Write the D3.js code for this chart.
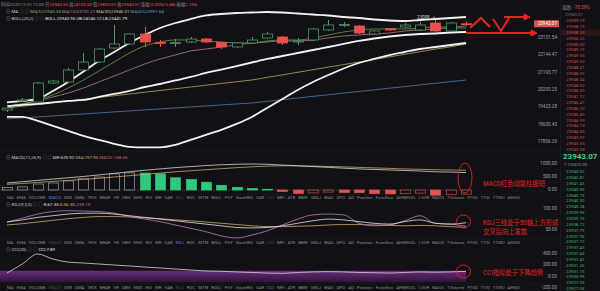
<!DOCTYPE html>
<html><head><meta charset="utf-8">
<script src="https://cdn.jsdelivr.net/npm/d3@7"></script>
<style>
html,body{margin:0;padding:0;background:#111115;}
svg{display:block;font-family:Roboto,"Noto Sans CJK SC",sans-serif;}
</style></head>
<body><svg id="c" width="600" height="291"></svg>
<script>
// candles, one per bar (oldest first)
const opens  = [19292,19732,19683,20643,20695,21327,21759,22536,22764,23342,22849,22792,22878,23051,22849,22593,22821,23109,23167,22878,22993,23577,23844,23814,23342,23665,23755,23577,23994,23518,23943.55];
const closes = [19389,19782,20643,20747,21327,21759,22480,22764,23342,22878,22792,22849,23051,22878,22593,22821,22993,23342,22821,22936,23636,23874,23904,23400,23518,23577,23874,23874,23518,23994,23943.07];
const highs  = [19487,19882,20695,20799,21434,22256,22536,23874,23400,23755,22993,23051,23167,23109,22878,22878,23167,23459,23225,23109,23695,24175,24054,23874,23577,23695,23994,24054,24175,24054,24100];
const lows   = [19196,19683,19634,20592,20643,21274,21705,22480,22707,22593,22593,22593,22821,22821,22480,22536,22764,23051,22707,22707,22936,23518,23755,23342,23283,23518,23695,23518,23459,23459,23800];

const bollUp  = [19661,19735,19834,20235,20696,21248,21814,22312,22821,23283,23695,23994,24236,24450,24541,24603,24634,24665,24634,24572,24511,24450,24358,24297,24206,24145,24115,24175,24236,24297,24358];
const bollMid = [19466,19538,19587,19661,19735,19784,19933,20083,20235,20438,20592,20774,20957,21168,21354,21542,21732,21924,22089,22256,22424,22593,22764,22936,23080,23196,23283,23342,23371,23430,23459];
const bollLow = [18961,18961,18773,18540,18310,18082,17903,17725,17593,17571,17571,17681,17903,18128,18355,18632,18961,19393,19834,20285,20696,21062,21407,21705,21924,22144,22312,22480,22593,22707,22821];
const ma5  = [19490,19587,19784,20033,20387,20800,21274,21759,22256,22650,22878,22993,22993,22936,22878,22821,22821,22936,22993,22993,23109,23283,23459,23577,23636,23636,23636,23695,23755,23755,23814];
const ma10 = [19490,19587,19735,19933,20134,20387,20696,21009,21327,21650,21924,22144,22368,22480,22593,22707,22821,22878,22936,22936,22993,23109,23225,23283,23342,23400,23518,23577,23636,23695,23695];
const ma30 = [19393,19478,19563,19649,19735,19822,19908,19995,20083,20172,20260,20349,20438,20528,20618,20709,20800,20936,21067,21205,21343,21483,21617,21759,21902,22040,22183,22330,22475,22604,22764];
const ma60 = [18867,18914,18961,19009,19056,19104,19152,19200,19248,19296,19344,19393,19441,19490,19538,19587,19636,19715,19799,19879,19963,20043,20129,20210,20290,20377,20459,20546,20629,20717,20800];

const macdVals = [100,120,230,270,350,430,500,620,660,650,620,470,400,300,180,100,60,30,-60,-130,-110,-80,-90,-100,-140,-150,-130,-120,-200,-170,-158.06];
const difVals  = [270,320,370,420,470,520,580,640,700,760,810,860,900,940,970,990,1000,990,960,930,900,870,840,810,790,770,750,730,700,690,670.92];
const deaVals  = [220,250,290,330,370,410,450,500,550,600,650,700,740,780,820,860,890,920,930,930,920,905,890,870,850,830,810,795,780,770,757.95];

const kVals = [69,74,80,84,88,90,90,88,84,80,76,72,68,64,60,56,55,56,60,66,72,76,74,70,66,64,70,74,66,64,67.35];
const dVals = [62,65,69,73,77,80,82,82,81,79,77,74,72,69,66,63,60,58,58,59,60,62,63,63,62,61,60,61,60,58,56.30];
const jVals = [69,78,88,94,96,95,94,90,82,76,70,62,54,46,36,31,38,48,62,76,86,88,86,66,60,62,72,84,66,64,59.13];

const cciVals = [61,217,391,304,250,235,217,200,183,165,148,130,113,96,90,80,70,60,55,70,80,85,80,70,65,60,70,80,75,80,90];

const priceTicks = [23131.54,22144.47,21193.77,20293.25,19425.28,18600.45,17806.29];
const lastPrice = 23943.07;
const macdTicks = [1000,500,0];
const kdjTicks = [100,50];
const cciTicks = [400,200,0,-200];

const asks = ['23959.73','23958.73','23958.33','23956.23','23956.00','23949.73','23949.55','23949.50','23948.21','23948.05','23948.04','23948.02','23948.00','23947.72','23946.41','23946.23','23945.49','23944.99','23944.73','23944.05','23943.99','23943.55','23943.08'];
const bids = ['23943.02','23942.81','23941.43','23940.95','23940.73','23940.30','23940.28','23939.95','23939.76','23938.72','23937.79','23937.76','23937.72','23937.43','23937.43','23931.41','23931.26','23931.15','23930.99','23927.03','23927.03'];

const tabNames = ['MA','EMA','VOLUME','MACD','DMI','DMA','TRIX','BRAR','VR','OBV','EMV','RSI','WR','SAR','KDJ','ROC','MTM','BOLL','PSY','StochRSI','SAR','CCI','MFI','ATR','BBW','SKDJ','BIAS','DPO','AO','Position','Funcflow','AHNRSOL','LSUR','BASIS','TVolume','FTSD','TTSI','TTMU','AHSDI'];

const BG = '#111115', UP = '#4e9a64', DN = '#e8504d', GRAY = '#8a8a90';
const svg = d3.select('#c');
svg.append('rect').attr('width', 600).attr('height', 291).attr('fill', BG);

const x = d3.scaleLinear().domain([0, 30]).range([7, 466]);
const yP = d3.scaleLog().domain([17806.29, 22144.47]).range([142, 55]);
const yM = d3.scaleLinear().domain([0, 1000]).range([190, 164]);
const yK = d3.scaleLinear().domain([50, 100]).range([230, 209]);
const yC = d3.scaleLinear().domain([-200, 400]).range([288, 253.5]);
const idx = d3.range(opens.length);

// separators
[151, 194, 239, 284].forEach((yy) => {
  svg.append('line').attr('x1', 0).attr('x2', 560).attr('y1', yy).attr('y2', yy).attr('stroke', '#1d1d23').attr('stroke-width', 0.6);
});

// ---- main pane lines
const lineP = d3.line().x((d, i) => x(i)).y((d) => yP(d)).curve(d3.curveMonotoneX);
const mg = svg.append('g');
[[ma60, '#4a78b0', 0.8], [ma30, '#b9a468', 0.8], [ma10, '#b87888', 0.8], [ma5, '#6f9a4a', 0.8],
 [bollLow, '#f2f2f2', 1.8], [bollMid, '#f2f2f2', 1.8], [bollUp, '#f2f2f2', 1.8]].forEach(([s, c, w]) => {
  mg.append('path').attr('d', lineP(s)).attr('fill', 'none').attr('stroke', c).attr('stroke-width', w);
});

// candles
const cg = svg.append('g');
idx.forEach((i) => {
  const up = closes[i] >= opens[i];
  const col = up ? UP : DN;
  const cx = Math.round(x(i)) + 0.5;
  const top = yP(Math.max(opens[i], closes[i]));
  const bot = yP(Math.min(opens[i], closes[i]));
  cg.append('line').attr('x1', cx).attr('x2', cx).attr('y1', yP(highs[i])).attr('y2', top).attr('stroke', col);
  cg.append('line').attr('x1', cx).attr('x2', cx).attr('y1', bot).attr('y2', yP(lows[i])).attr('stroke', col);
  cg.append('rect').attr('x', cx - 5).attr('y', top).attr('width', 10).attr('height', Math.max(0.8, bot - top))
    .attr('fill', up ? BG : DN).attr('stroke', col).attr('stroke-width', 0.8);
});
svg.append('text').attr('x', 417).attr('y', 18.5).attr('font-size', 4.5).attr('fill', '#d0d0d0').text('23098 →');

// ---- MACD pane
svg.append('line').attr('x1', 0).attr('x2', 470).attr('y1', yM(0)).attr('y2', yM(0)).attr('stroke', '#3a3a40').attr('stroke-width', 0.6);
idx.forEach((i) => {
  const v = macdVals[i];
  const hollow = i === 0 || v >= macdVals[i - 1];
  const col = v >= 0 ? (hollow ? '#9aa49f' : '#2ec97a') : (hollow ? '#c84848' : '#e25555');
  const y0 = yM(Math.max(0, v)), y1 = yM(Math.min(0, v));
  svg.append('rect').attr('x', Math.round(x(i)) - 4.5).attr('y', y0).attr('width', 10).attr('height', Math.max(0.8, y1 - y0))
    .attr('fill', hollow ? 'none' : col).attr('stroke', col).attr('stroke-width', 0.7);
});
const lineM = d3.line().x((d, i) => x(i)).y((d) => yM(d)).curve(d3.curveMonotoneX);
svg.append('path').attr('d', lineM(deaVals)).attr('fill', 'none').attr('stroke', '#c8a96a').attr('stroke-width', 0.8);
svg.append('path').attr('d', lineM(difVals)).attr('fill', 'none').attr('stroke', '#d8d8d8').attr('stroke-width', 0.8);

// ---- KDJ pane
const lineK = d3.line().x((d, i) => x(i)).y((d) => yK(d)).curve(d3.curveMonotoneX);
[[dVals, '#c8b070'], [jVals, '#c07ab8'], [kVals, '#e6e6e6']].forEach(([s, c]) => {
  svg.append('path').attr('d', lineK(s)).attr('fill', 'none').attr('stroke', c).attr('stroke-width', 0.8);
});

// ---- CCI pane
const grad = svg.append('defs').append('linearGradient').attr('id', 'pg').attr('x1', 0).attr('x2', 0).attr('y1', 0).attr('y2', 1);
grad.append('stop').attr('offset', 0).attr('stop-color', '#6a2c7c');
grad.append('stop').attr('offset', 1).attr('stop-color', '#2c1436');
svg.append('rect').attr('x', 0).attr('width', x(30)).attr('y', yC(100)).attr('height', yC(-100) - yC(100)).attr('fill', 'url(#pg)');
const lineC = d3.line().x((d, i) => x(i)).y((d) => yC(d)).curve(d3.curveMonotoneX);
svg.append('path').attr('d', lineC(cciVals)).attr('fill', 'none').attr('stroke', '#d8d8d8').attr('stroke-width', 0.8);

// ---- header texts
function seg(yy, x0, parts, fs) {
  const t = svg.append('text').attr('x', x0).attr('y', yy).attr('font-size', fs || 4.4).attr('dominant-baseline', 'middle');
  parts.forEach(([s, c]) => t.append('tspan').attr('fill', c).text(s));
  return t;
}
const RED = '#e0504c';
seg(4.5, 1, [['时间2020-12-31 12:00 ', GRAY], ['开', GRAY], ['23943.55 ', RED], ['高', GRAY], ['24100.00 ', RED], ['低', GRAY], ['23800.00 ', RED], ['收', GRAY], ['23943.07 ', RED], ['涨幅', GRAY], ['-0.00%(-0.48) ', RED], ['振幅', GRAY], ['1.25%', RED]]);
seg(11.5, 6, [['⊖ ', GRAY], ['MA ', '#cfcfcf'], ['◎ ◎  ', '#555'], ['MA(5)23945.55  ', '#8db05a'], ['MA(10)23731.21  ', '#c8788c'], ['MA(30)23945.01  ', '#d8c890'], ['MA(60)23991.64', '#6a9ad0']]);
seg(18.5, 6, [['⊖ ', GRAY], ['BOLL(20,2) ', '#cfcfcf'], ['◎ ◎  ', '#555'], ['BOLL:23943.95  UB:24246.12  LB:23441.79', '#e6e6e6']]);
seg(158, 6, [['⊖ ', GRAY], ['MACD(12,26,9) ', '#cfcfcf'], ['◎ ◎  ', '#555'], ['DIF:670.92  ', '#e6e6e6'], ['DEA:757.95  ', '#d8b870'], ['MACD:-158.06', '#d06a6a']]);
seg(205, 6, [['⊖ ', GRAY], ['KDJ(9,3,3) ', '#cfcfcf'], ['◎ ◎  ', '#555'], ['K:67.35  ', '#e6e6e6'], ['D:56.30  ', '#d8b870'], ['J:59.13', '#c07ab8']]);
seg(250, 6, [['⊖ ', GRAY], ['CCI(20) ', '#cfcfcf'], ['◎ ◎  ', '#555'], ['CCI:7.89', '#e6e6e6']]);

// tab rows
function tabRow(yy, active, dims) {
  const g = svg.append('g');
  const items = tabNames.map((n) => g.append('text').attr('y', yy).attr('font-size', 4.3).attr('dominant-baseline', 'middle')
    .attr('fill', n === active ? '#4d7fe0' : (dims.includes(n) ? '#4a4a52' : GRAY)).text(n));
  const widths = items.map((t) => t.node().getComputedTextLength());
  const gap = (520 - 7 - d3.sum(widths)) / (items.length - 1);
  let cx = 7;
  items.forEach((t, k) => { t.attr('x', cx); cx += widths[k] + gap; });
}
tabRow(198, 'MACD', ['KDJ', 'CCI']);
tabRow(243, 'KDJ', ['MACD', 'CCI']);
tabRow(287.5, 'CCI', ['MACD', 'KDJ']);

// ---- annotations
const AR = '#e3241f';
const an = svg.append('g').attr('stroke', AR).attr('fill', 'none');
an.append('ellipse').attr('cx', 465).attr('cy', 178).attr('rx', 7).attr('ry', 15).attr('stroke-width', 0.9);
an.append('ellipse').attr('cx', 463.5).attr('cy', 221.5).attr('rx', 7).attr('ry', 6.5).attr('stroke-width', 0.9);
an.append('ellipse').attr('cx', 463.5).attr('cy', 271.5).attr('rx', 7).attr('ry', 6.5).attr('stroke-width', 0.9);
an.append('path').attr('d', 'M470,28 L481,18 L490,27 M493,19 L501,31 L509,18').attr('stroke-width', 2);
an.append('path').attr('d', 'M504,17 L526,17 M466,33 L533,33').attr('stroke-width', 2);
an.append('path').attr('d', 'M524,14 L530,17 L524,20 Z M531,30 L537,33 L531,36 Z').attr('fill', AR).attr('stroke-width', 1);
const at = (yy, s) => svg.append('text').attr('x', 483).attr('y', yy).attr('font-size', 6.3).attr('fill', AR).attr('dominant-baseline', 'middle').text(s);
at(184, 'MACD红色动能柱缩短');
at(223, 'KDJ三线处于50轴上方形成');
at(232, '交叉后向上发散');
at(273, 'CCI指标处于下降趋势');

// ---- right axis labels
const axT = (yy, s) => svg.append('text').attr('x', 557).attr('y', yy).attr('font-size', 4.6).attr('fill', '#a0a0a6').attr('text-anchor', 'end').attr('dominant-baseline', 'middle').text(s);
priceTicks.forEach((v) => axT(yP(v), v.toFixed(2)));
macdTicks.forEach((v) => axT(yM(v), v.toFixed(2)));
kdjTicks.forEach((v) => axT(yK(v), v.toFixed(2)));
cciTicks.forEach((v) => axT(yC(v), v.toFixed(2)));
svg.append('rect').attr('x', 534).attr('y', yP(lastPrice) - 3.5).attr('width', 25).attr('height', 7).attr('fill', '#e0504c').attr('rx', 0.8);
svg.append('text').attr('x', 557).attr('y', yP(lastPrice)).attr('font-size', 4.6).attr('fill', '#fff').attr('text-anchor', 'end').attr('dominant-baseline', 'middle').text(lastPrice.toFixed(2));

// ---- order book column
const ob = svg.append('g');
ob.append('rect').attr('x', 561).attr('y', 0).attr('width', 39).attr('height', 291).attr('fill', BG);
ob.append('line').attr('x1', 560.5).attr('x2', 560.5).attr('y1', 0).attr('y2', 291).attr('stroke', '#202026').attr('stroke-width', 0.6);
seg(8, 562, [['涨跌: ', GRAY], ['-70.59%', RED]], 4.6);
seg(15, 565, [['23945.07', '#6a6a70']], 4.2);
ob.append('rect').attr('x', 561).attr('y', 21 + 5.85 * 2 - 2.9).attr('width', 39).attr('height', 5.8).attr('fill', '#2c1517');
asks.forEach((s, k) => {
  svg.append('text').attr('x', 566).attr('y', 21 + 5.85 * k).attr('font-size', 4.4).attr('fill', '#cf4a48').attr('dominant-baseline', 'middle').text(s);
});
svg.append('text').attr('x', 563).attr('y', 157).attr('font-size', 8).attr('font-weight', 'bold').attr('fill', '#3ecf7c').attr('dominant-baseline', 'middle').text(lastPrice.toFixed(2));
seg(164.5, 564, [['¥ 150475.00', '#8a8a90']], 4.2);
bids.forEach((s, k) => {
  svg.append('text').attr('x', 566).attr('y', 172 + 5.85 * k).attr('font-size', 4.4).attr('fill', '#3ab872').attr('dominant-baseline', 'middle').text(s);
});
</script>
</body></html>
